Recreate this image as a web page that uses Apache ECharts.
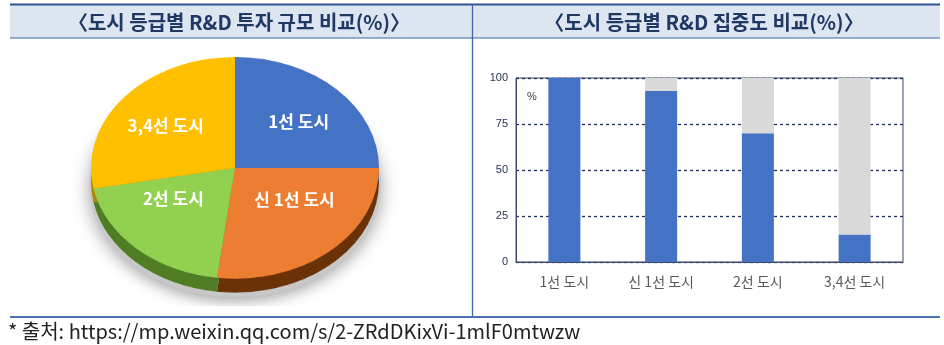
<!DOCTYPE html>
<html>
<head>
<meta charset="utf-8">
<script src="https://cdn.jsdelivr.net/npm/echarts@6/dist/echarts.min.js"></script>
<style>
  html, body { margin: 0; padding: 0; background: #ffffff; }
  #wrap { position: relative; width: 944px; height: 345px; overflow: hidden; }
  #pie { position: absolute; left: 0; top: 40px; width: 472px; height: 345px;
         transform: scaleY(0.77); transform-origin: 0 0; z-index: 0; }
  #main { position: absolute; left: 0; top: 0; width: 944px; height: 345px; z-index: 1; }
</style>
</head>
<body>
<div id="wrap">
  <div id="pie"></div>
  <div id="main"></div>
</div>
<script>
// ---- data ----
const leftTitle = '〈도시 등급별 R&D 투자 규모 비교(%)〉';
const rightTitle = '〈도시 등급별 R&D 집중도 비교(%)〉';
const sourceNote = '* 출처: https://mp.weixin.qq.com/s/2-ZRdDKixVi-1mlF0mtwzw';

const pieCategories = ['1선 도시', '신 1선 도시', '2선 도시', '3,4선 도시'];
const pieShares = [25, 27, 20, 28];

const barCategories = ['1선 도시', '신 1선 도시', '2선 도시', '3,4선 도시'];
const concentrated = [100, 93, 70, 15];
const remainder = [0, 7, 30, 85];
const yMin = 0, yMax = 100, yStep = 25;
const unitLabel = '%';

// ---- styles ----
const topColors = ['#4472c4', '#ed7d31', '#92d050', '#ffc000'];
const sideColors = ['#2f4f8a', '#6b3208', '#4e7d24', '#b38600'];
const KR = "'Noto Sans CJK KR', 'Noto Sans', sans-serif";

// ---- pie (3D-looking, squashed via CSS) ----
const pieChart = echarts.init(document.getElementById('pie'), null, { renderer: 'canvas' });
const pieData = pieCategories.map((c, i) => ({ name: c, value: pieShares[i] }));
const PC = [235, 166], PR = 144, DEPTH = 18;
pieChart.setOption({
  animation: false,
  backgroundColor: 'transparent',
  series: [
    {
      type: 'pie', silent: true, startAngle: 90, clockwise: true,
      center: [PC[0], PC[1] + DEPTH + 4], radius: PR + 2,
      label: { show: false }, labelLine: { show: false },
      itemStyle: { color: '#c8c8c8', shadowBlur: 18, shadowColor: 'rgba(0,0,0,0.35)', shadowOffsetY: 6 },
      data: [{ name: 'shadow', value: 1 }]
    },
    {
      type: 'pie', silent: true, startAngle: 90, clockwise: true,
      center: [PC[0], PC[1] + DEPTH], radius: PR,
      label: { show: false }, labelLine: { show: false },
      itemStyle: { color: (p) => sideColors[p.dataIndex] },
      data: pieData
    },
    {
      type: 'pie', silent: true, startAngle: 90, clockwise: true,
      center: PC, radius: PR,
      label: { show: false }, labelLine: { show: false },
      itemStyle: { color: (p) => topColors[p.dataIndex] },
      data: pieData
    }
  ]
});

// ---- main chart ----
const main = echarts.init(document.getElementById('main'), null, { renderer: 'canvas' });
const SQ = 0.77, LC = [235, 165];
main.setOption({
  animation: false,
  backgroundColor: 'transparent',
  grid: { left: 516, right: 41, top: 78, bottom: 83, show: true, borderColor: '#3e4b6b', borderWidth: 1 },
  xAxis: {
    type: 'category', data: barCategories,
    axisLine: { show: true, lineStyle: { color: '#3e4b6b', width: 1 } },
    axisTick: { show: false },
    axisLabel: { color: '#595959', fontSize: 14, fontFamily: KR, margin: 13 },
    splitLine: { show: false }
  },
  yAxis: {
    type: 'value', min: yMin, max: yMax, interval: yStep,
    axisLine: { show: true, lineStyle: { color: '#3e4b6b', width: 1 } },
    axisTick: { show: false },
    axisLabel: { color: '#1f2d4d', fontSize: 11, fontFamily: "'Liberation Sans', sans-serif", margin: 8 },
    splitLine: { show: true, lineStyle: { color: '#1f2d5a', width: 1.3, type: [3, 3] } }
  },
  series: [
    {
      name: '집중', type: 'bar', stack: 'total', barWidth: 32,
      itemStyle: { color: '#4472c4' }, data: concentrated, z: 3
    },
    {
      name: '기타', type: 'bar', stack: 'total', barWidth: 32,
      itemStyle: { color: '#d9d9d9' }, data: remainder, z: 3
    },
    {
      type: 'pie', silent: true, startAngle: 90, clockwise: true,
      center: LC, radius: 144,
      itemStyle: { color: 'transparent' },
      label: { show: true, position: 'inside', color: '#ffffff', fontSize: 17, fontWeight: 'bold', fontFamily: KR },
      labelLine: { show: false },
      labelLayout: function (p) {
        const r = p.labelRect;
        const lx = r.x + r.width / 2, ly = r.y + r.height / 2;
        const dy = ly - LC[1];
        return {
          x: LC[0] + (lx - LC[0]) * 1.2,
          y: LC[1] + dy * SQ * (dy < 0 ? 1.07 : 0.8),
          align: 'center', verticalAlign: 'middle'
        };
      },
      data: pieData
    }
  ],
  graphic: [
    { type: 'rect', z: -1, shape: { x: 10, y: 5, width: 930, height: 33 }, style: { fill: '#dde5f1' } },
    { type: 'line', shape: { x1: 10, y1: 4.5, x2: 940, y2: 4.5 }, style: { stroke: '#2f5496', lineWidth: 2 } },
    { type: 'line', shape: { x1: 10, y1: 38, x2: 940, y2: 38 }, style: { stroke: '#3f66a6', lineWidth: 1.2 } },
    { type: 'line', shape: { x1: 472.5, y1: 5, x2: 472.5, y2: 317 }, style: { stroke: '#3f66a6', lineWidth: 1.3 } },
    { type: 'line', shape: { x1: 10, y1: 317, x2: 940, y2: 317 }, style: { stroke: '#4a72b0', lineWidth: 2 } },
    { type: 'text', x: 239, y: 22, style: { text: leftTitle, fill: '#1f3864', font: "bold 20px 'Noto Sans CJK KR', sans-serif", textAlign: 'center', textVerticalAlign: 'middle' } },
    { type: 'text', x: 704, y: 22, style: { text: rightTitle, fill: '#1f3864', font: "bold 20px 'Noto Sans CJK KR', sans-serif", textAlign: 'center', textVerticalAlign: 'middle' } },
    { type: 'text', x: 527, y: 97, style: { text: unitLabel, fill: '#3a3a3a', font: "11px 'Liberation Sans', sans-serif", textVerticalAlign: 'middle' } },
    { type: 'text', x: 8, y: 331, style: { text: sourceNote, fill: '#222222', font: "20px 'Noto Sans CJK KR', sans-serif", textVerticalAlign: 'middle' } }
  ]
});
</script>
</body>
</html>
